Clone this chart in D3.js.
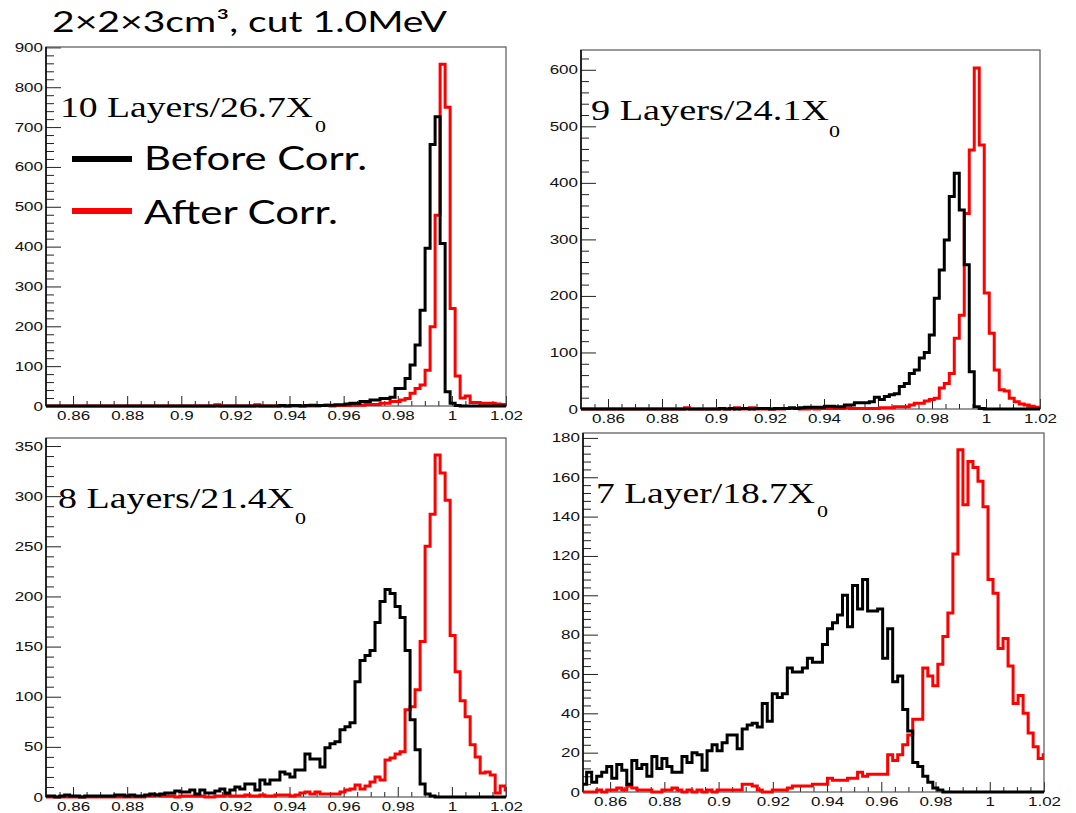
<!DOCTYPE html>
<html><head><meta charset="utf-8">
<script src="https://cdn.jsdelivr.net/npm/d3@7"></script>
<style>body{margin:0;background:#fff}svg{display:block}</style>
</head><body>
<svg id="chart" width="1076" height="813"></svg>
<script>
// ---------- data ----------
const binStart = 0.8495, binWidth = 0.00185;   // histogram binning
const xTicks = [0.86,0.88,0.9,0.92,0.94,0.96,0.98,1.0,1.02];

const before10 = [0,0,0,0,0,0,0,0,0,0, 0,0,0,0,0,0,0,0,0,0, 0,0,0,0,0,0,0,0,0,0, 0,0,0,0,0,0,0,0,0,0,
  0,0,0,0,0,0,0,1,0,1, 1,0,1,2,1,1,2,2,3,3, 5,7,7,11,11,15,15,19,19,22, 44,44,69,103,153,240,396,656,726,408,
  36,7,1,0,0,0,0,0,0,0, 0,0,0];
const after10 = [0,0,0,0,0,0,0,0,0,0, 0,0,0,0,0,0,0,0,0,0, 0,0,0,0,0,0,0,0,0,0, 0,0,0,0,3,0,0,0,0,0,
  0,0,3,0,0,0,0,0,0,0, 0,0,0,0,0,1,2,0,1,1, 1,2,2,2,4,4,4,7,7,11, 11,15,19,32,44,53,90,199,479,858,
  750,245,75,20,25,9,9,7,7,7, 5,4,3];

const before9 = [0,0,0,0,0,0,0,0,0,0, 0,0,0,0,0,0,0,0,0,0, 0,0,0,0,0,0,0,0,1,0, 1,0,1,1,0,1,1,1,0,1,
  1,1,2,1,2,3,3,3,3,5, 5,4,4,7,7,11,11,11,13,21, 17,22,25,27,40,45,63,69,90,100, 131,196,246,299,376,417,352,255,66,4,
  1,0,0,0,0,0,0,0,0,0, 0,0,0];
const after9 = [0,0,0,0,0,0,0,0,0,0, 0,0,0,0,0,0,0,0,0,0, 0,2,0,0,0,0,0,0,0,0, 0,2,0,0,2,0,0,0,0,0,
  0,1,1,1,0,0,1,0,1,1, 1,1,1,2,1,1,1,1,1,1, 2,2,2,4,4,4,7,10,10,14, 17,19,37,45,63,125,166,346,458,603,
  467,205,134,69,34,32,19,13,9,7, 5,3,3];

const before8 = [1,1,0,1,2,1,1,0,1,1, 1,1,1,1,2,2,1,2,1,1, 2,3,2,3,4,4,6,5,5,7, 3,7,4,4,6,8,4,7,10,8,
  13,13,7,17,13,17,17,25,23,20, 27,27,43,38,38,30,49,53,55,67, 70,74,115,136,141,146,174,195,207,203,
  190,179,146,77,47,13,3,1,0,0, 0,0,0,0,0,0,0,0,0,0, 0,0,0];
const after8 = [0,0,0,0,0,0,0,0,0,0, 0,0,0,0,0,0,0,0,0,0, 1,1,2,1,1,1,0,1,1,1, 1,1,0,0,1,1,2,1,1,1,
  2,1,1,2,1,1,2,2,2,1, 2,4,5,3,5,3,3,3,3,5, 7,8,12,8,11,15,20,17,37,39, 43,45,87,90,107,155,250,282,341,323,
  296,161,125,96,80,52,40,24,25,22, 4,11,7];

const before7 = [4,10,5,8,10,13,7,14,11,4, 16,12,14,8,18,12,17,13,10,10, 18,15,20,19,11,21,24,21,25,29,
  29,22,32,34,35,33,45,36,50,48, 50,63,61,61,63,68,66,66,75,83, 86,90,100,84,105,93,108,92,92,93,
  68,83,56,59,42,31,15,13,8,5, 2,1,0,0,0,0,0,0,0,0, 0,0,0,0,0,0,0,0,0,0, 0,0,0];
const after7 = [0,0,0,1,0,1,1,2,1,3, 2,1,1,1,0,0,1,1,2,1, 0,1,0,1,0,1,0,1,1,1, 1,1,4,4,3,1,0,0,1,1,
  1,2,3,3,3,3,4,4,4,7, 6,6,6,7,7,10,8,9,9,9, 9,19,16,19,24,29,37,37,63,59, 54,65,79,91,121,174,146,168,165,158,
  145,108,101,73,78,64,45,49,40,30, 23,17,19];

const yTicks10 = [0,100,200,300,400,500,600,700,800,900];
const yTicks9  = [0,100,200,300,400,500,600];
const yTicks8  = [0,50,100,150,200,250,300,350];
const yTicks7  = [0,20,40,60,80,100,120,140,160,180];

const labels = ["10 Layers/26.7X", "9 Layers/24.1X", "8 Layers/21.4X", "7 Layer/18.7X"];
const titleText = "2\u00d72\u00d73cm\u00b3, cut 1.0MeV";
const legendNames = ["Before Corr.", "After Corr."];

// ---------- layout ----------
const panels = [
  {before: before10, after: after10, yTicks: yTicks10, yMax: 901, minorDiv: 5, label: labels[0],
   left: 46, right: 506, top: 47, bottom: 406,
   lab: {x: 60, y: 117, len: 253, sx: 315, sy: 132}},
  {before: before9, after: after9, yTicks: yTicks9, yMax: 635, minorDiv: 5, label: labels[1],
   left: 581, right: 1040, top: 50, bottom: 409,
   lab: {x: 591, y: 120, len: 238, sx: 829, sy: 137}},
  {before: before8, after: after8, yTicks: yTicks8, yMax: 358, minorDiv: 5, label: labels[2],
   left: 46, right: 506, top: 438, bottom: 797,
   lab: {x: 58, y: 508, len: 236, sx: 295, sy: 524}},
  {before: before7, after: after7, yTicks: yTicks7, yMax: 182.5, minorDiv: 5, label: labels[3],
   left: 583, right: 1044, top: 433, bottom: 792,
   lab: {x: 596, y: 503, len: 219, sx: 817, sy: 517}}
];

const svg = d3.select("#chart");
const SX = 1.35;  // horizontal stretch of the original image text
const tickFont = "'Liberation Sans', Arial, sans-serif";

function fmtX(d){ return String(+d.toFixed(2)); }

panels.forEach((p, pi) => {
  const g = svg.append("g");
  const x = d3.scaleLinear().domain([0.85, 1.02]).range([p.left, p.right]);
  const y = d3.scaleLinear().domain([0, p.yMax]).range([p.bottom, p.top]);

  const clipId = "clip" + pi;
  g.append("clipPath").attr("id", clipId).append("rect")
    .attr("x", p.left).attr("y", p.top - 2)
    .attr("width", p.right - p.left).attr("height", p.bottom - p.top + 4);

  const step = p.yTicks[1] - p.yTicks[0];
  const minorY = [];
  for (let v = 0; v <= p.yMax + 1e-9; v += step / p.minorDiv) {
    if (Math.abs(v / step - Math.round(v / step)) > 1e-6) minorY.push(v);
  }
  const yMinorG = g.append("g").attr("transform", `translate(${p.left},0)`)
    .call(d3.axisLeft(y).tickValues(minorY).tickSize(-8).tickFormat(""));
  const yMajorG = g.append("g").attr("transform", `translate(${p.left},0)`)
    .call(d3.axisLeft(y).tickValues(p.yTicks).tickSize(-15).tickPadding(3));

  const minorX = [];
  for (let i = 1; i < 34; i++) {
    const v = 0.85 + i * 0.005;
    if (Math.abs((v - 0.86) / 0.02 - Math.round((v - 0.86) / 0.02)) > 1e-6) minorX.push(v);
  }
  const xMinorG = g.append("g").attr("transform", `translate(0,${p.bottom})`)
    .call(d3.axisBottom(x).tickValues(minorX).tickSize(-5).tickFormat(""));
  const xMajorG = g.append("g").attr("transform", `translate(0,${p.bottom})`)
    .call(d3.axisBottom(x).tickValues(xTicks).tickSize(-10).tickPadding(5).tickFormat(fmtX));

  [yMinorG, yMajorG, xMinorG, xMajorG].forEach(ax => {
    ax.select(".domain").remove();
    ax.selectAll(".tick line").attr("stroke", "#222").attr("stroke-width", 1);
    ax.selectAll("text").attr("font-family", tickFont).attr("font-size", 12.6).attr("fill", "#111");
  });
  yMajorG.selectAll("text").attr("x", -3 / SX).attr("transform", `scale(${SX},1)`);
  xMajorG.selectAll("text").attr("transform", `scale(${SX},1)`);

  g.append("rect").attr("x", p.left).attr("y", p.top)
    .attr("width", p.right - p.left).attr("height", p.bottom - p.top)
    .attr("fill", "none").attr("stroke", "#555").attr("stroke-width", 1.2);
  g.append("line").attr("x1", p.left).attr("x2", p.left).attr("y1", p.top).attr("y2", p.bottom)
    .attr("stroke", "#000").attr("stroke-width", 1.5);

  function outline(vals) {
    const pts = [[binStart, 0]];
    vals.forEach((v, k) => {
      const e0 = binStart + k * binWidth, e1 = e0 + binWidth;
      pts.push([e0, v]); pts.push([e1, v]);
    });
    pts.push([binStart + vals.length * binWidth, 0]);
    return pts;
  }
  const line = d3.line().x(d => x(d[0])).y(d => y(d[1]));
  const hg = g.append("g").attr("clip-path", `url(#${clipId})`);
  hg.append("path").attr("d", line(outline(p.after)))
    .attr("fill", "none").attr("stroke", "#ff0000").attr("stroke-width", 3).attr("stroke-linejoin", "miter");
  hg.append("path").attr("d", line(outline(p.before)))
    .attr("fill", "none").attr("stroke", "#000").attr("stroke-width", 3).attr("stroke-linejoin", "miter");

  g.append("text").attr("x", p.lab.x).attr("y", p.lab.y)
    .attr("font-family", "'Liberation Serif', 'Times New Roman', serif").attr("font-size", 30)
    .attr("textLength", p.lab.len).attr("lengthAdjust", "spacingAndGlyphs")
    .attr("fill", "#000").text(p.label);
  g.append("text").attr("x", p.lab.sx).attr("y", p.lab.sy)
    .attr("font-family", "'Liberation Serif', 'Times New Roman', serif").attr("font-size", 16)
    .attr("textLength", 11).attr("lengthAdjust", "spacingAndGlyphs")
    .attr("fill", "#000").text("0");
});

svg.append("text").attr("x", 52).attr("y", 32)
  .attr("font-family", "Lato, 'Open Sans', sans-serif").attr("font-size", 28)
  .attr("textLength", 395).attr("lengthAdjust", "spacingAndGlyphs")
  .attr("fill", "#000").text(titleText);

const legend = [
  {name: legendNames[0], color: "#000", y: 159, ty: 170, len: 223},
  {name: legendNames[1], color: "#ff0000", y: 211, ty: 224, len: 194}
];
legend.forEach(l => {
  svg.append("line").attr("x1", 72).attr("x2", 132).attr("y1", l.y).attr("y2", l.y)
    .attr("stroke", l.color).attr("stroke-width", 6);
  svg.append("text").attr("x", 144).attr("y", l.ty)
    .attr("font-family", "Lato, 'Open Sans', sans-serif").attr("font-size", 32)
    .attr("textLength", l.len).attr("lengthAdjust", "spacingAndGlyphs")
    .attr("fill", "#000").text(l.name);
});
</script>
</body></html>
